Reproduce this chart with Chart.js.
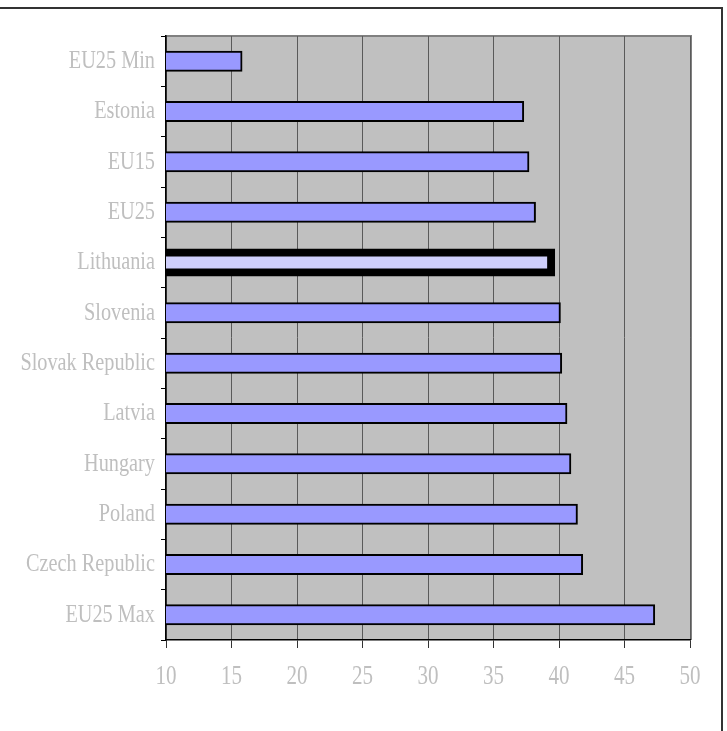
<!DOCTYPE html>
<html>
<head>
<meta charset="utf-8">
<script src="https://cdn.jsdelivr.net/npm/chart.js@4/dist/chart.umd.min.js"></script>
<style>
  html, body { margin: 0; padding: 0; background: #fff; }
  #wrap { width: 727px; height: 731px; position: relative; }
</style>
</head>
<body>
<div id="wrap"><canvas id="c" width="727" height="731"></canvas></div>
<script>
// Categories, top to bottom
const categories = ['EU25 Min', 'Estonia', 'EU15', 'EU25', 'Lithuania', 'Slovenia',
  'Slovak Republic', 'Latvia', 'Hungary', 'Poland', 'Czech Republic', 'EU25 Max'];
// Values per category
const values = [15.8, 37.3, 37.7, 38.2, 39.4, 40.1, 40.2, 40.6, 40.9, 41.4, 41.8, 47.3];
// Category drawn with the heavy outline
const highlighted = 'Lithuania';
// Value axis tick labels
const xTicks = [10, 15, 20, 25, 30, 35, 40, 45, 50];

const SERIF = '"Liberation Serif", "Times New Roman", serif';
const TEXT_SQUEEZE = 0.78; // horizontal compression of label text

const isHi = i => categories[i] === highlighted;

// Condensed label text: draw every label squeezed horizontally around its anchor
const condensedText = {
  id: 'condensedText',
  beforeInit(chart) {
    const ctx = chart.ctx;
    const base = CanvasRenderingContext2D.prototype.fillText;
    ctx.fillText = function (text, x, y, maxWidth) {
      this.save();
      this.translate(x, y);
      this.scale(TEXT_SQUEEZE, 1);
      if (maxWidth === undefined) base.call(this, text, 0, 0);
      else base.call(this, text, 0, 0, maxWidth / TEXT_SQUEEZE);
      this.restore();
    };
  }
};

// Grey plot area, its top edge and the outer frame
const plotFrame = {
  id: 'plotFrame',
  beforeDraw(chart) {
    const { ctx, chartArea: a } = chart;
    ctx.save();
    ctx.fillStyle = '#c0c0c0';
    ctx.fillRect(a.left, a.top, a.right - a.left, a.bottom - a.top);
    ctx.strokeStyle = '#808080';
    ctx.lineWidth = 2;
    ctx.beginPath();
    ctx.moveTo(a.left, a.top);
    ctx.lineTo(a.right + 1, a.top);
    ctx.lineTo(a.right + 1, a.bottom);
    ctx.stroke();
    ctx.strokeStyle = '#333';
    ctx.lineWidth = 2;
    ctx.strokeRect(-5, 8, 727, 760);
    ctx.restore();
  }
};

new Chart(document.getElementById('c'), {
  type: 'bar',
  data: {
    labels: categories,
    datasets: [{
      data: values,
      backgroundColor: ctx => isHi(ctx.dataIndex) ? '#cfcffb' : '#9999ff',
      borderColor: '#000',
      borderWidth: ctx => isHi(ctx.dataIndex) ? 8 : 2,
      inflateAmount: ctx => isHi(ctx.dataIndex) ? 4 : 0.5,
      borderSkipped: false,
      barThickness: 20,
      clip: { left: 0, top: false, right: false, bottom: false }
    }]
  },
  options: {
    indexAxis: 'y',
    responsive: false,
    animation: false,
    events: [],
    layout: { padding: { top: 36, right: 37, left: 0, bottom: 0 } },
    plugins: { legend: { display: false }, tooltip: { enabled: false } },
    scales: {
      x: {
        type: 'linear',
        position: 'bottom',
        min: 10,
        max: 50,
        afterBuildTicks: s => { s.ticks = xTicks.map(v => ({ value: v })); },
        grid: { color: '#5a5a5a', lineWidth: 1, tickLength: 8, tickColor: '#333' },
        border: { display: true, color: '#000', width: 1.5 },
        ticks: {
          color: '#bfbfbf',
          font: { family: SERIF, size: 27 },
          padding: 13,
          maxRotation: 0,
          autoSkip: false
        },
        afterFit: s => { s.height = 91; }
      },
      y: {
        type: 'category',
        offset: true,
        grid: { offset: true, drawOnChartArea: false, tickLength: 5, color: '#000' },
        border: { display: true, color: '#000', width: 1.5 },
        ticks: {
          color: '#bfbfbf',
          font: { family: SERIF, size: 26 },
          padding: 6,
          autoSkip: false
        },
        afterFit: s => { s.width = 166; }
      }
    }
  },
  plugins: [condensedText, plotFrame]
});
</script>
</body>
</html>
